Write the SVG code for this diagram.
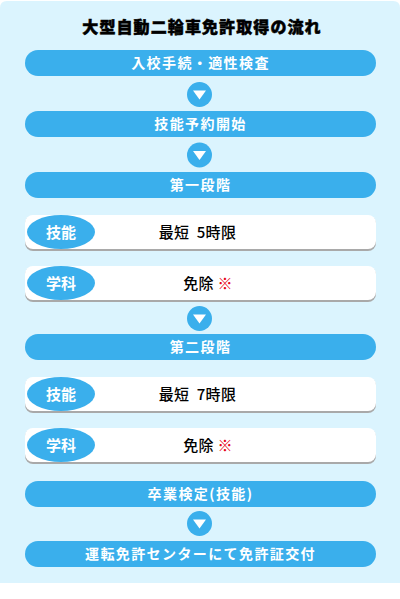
<svg xmlns="http://www.w3.org/2000/svg" width="400" height="599" viewBox="0 0 400 599">
<style>
.bar{fill:#3aafec}
.bt{fill:#fff;font-family:"Noto Sans CJK JP","Noto Sans",sans-serif;font-weight:bold;font-size:14px;letter-spacing:1.4px;text-anchor:middle}
.lt{fill:#fff;font-family:"Noto Sans CJK JP","Noto Sans",sans-serif;font-weight:bold;font-size:15px;text-anchor:middle}
.card{fill:#fff}
.sh{fill:#a9a9a9}
.tag{fill:#3aafec}
.ct{fill:#000;font-family:"Noto Sans CJK JP","Noto Sans",sans-serif;font-weight:500;font-size:15px;letter-spacing:0.3px;text-anchor:middle}
.red{fill:#e60012}
.arr{fill:#3aafec}
.tri{fill:#fff}
</style>
<path d="M0,8 Q0,1 7,1 L393,1 Q400,1 400,8 L400,583 L0,583 Z" fill="#dbf4fe"/>
<text x="202" y="33" font-family="'Noto Sans CJK JP',sans-serif" font-weight="900" font-size="16" letter-spacing="1.1" text-anchor="middle" fill="#000" stroke="#000" stroke-width="0.5">大型自動二輪車免許取得の流れ</text>
<g id="connectors">
<g><circle class="arr" cx="199.5" cy="94.5" r="12.5"/><path class="tri" d="M193,90.5 L206,90.5 L199.5,99.5 Z"/></g>
<g><circle class="arr" cx="199.5" cy="155" r="12.5"/><path class="tri" d="M193,151 L206,151 L199.5,160 Z"/></g>
<g><circle class="arr" cx="199.5" cy="318.5" r="12.5"/><path class="tri" d="M193,314.5 L206,314.5 L199.5,323.5 Z"/></g>
<g><circle class="arr" cx="199.5" cy="523.5" r="12.5"/><path class="tri" d="M193,519.5 L206,519.5 L199.5,528.5 Z"/></g>
</g>
<g id="n1"><rect class="bar" x="25" y="50" width="351" height="26" rx="13"/><text class="bt" x="200.5" y="68">入校手続・適性検査</text></g>
<g id="n2"><rect class="bar" x="25" y="111" width="351" height="26" rx="13"/><text class="bt" x="200.5" y="129">技能予約開始</text></g>
<g id="n3"><rect class="bar" x="25" y="172" width="351" height="26" rx="13"/><text class="bt" x="200.5" y="190">第一段階</text></g>
<g id="n4"><rect class="sh" x="25" y="216" width="351" height="35" rx="8"/><rect class="card" x="25" y="215" width="351" height="34" rx="8"/><ellipse class="tag" cx="61" cy="232" rx="34" ry="17"/><text class="lt" x="61" y="237.5">技能</text><text class="ct" x="197.5" y="238" xml:space="preserve">最短  5時限</text></g>
<g id="n5"><rect class="sh" x="25" y="267" width="351" height="35" rx="8"/><rect class="card" x="25" y="266" width="351" height="34" rx="8"/><ellipse class="tag" cx="61" cy="283" rx="34" ry="17"/><text class="lt" x="61" y="288.5">学科</text><text class="ct" x="208" y="289">免除 <tspan class="red">※</tspan></text></g>
<g id="n6"><rect class="bar" x="25" y="334" width="351" height="26" rx="13"/><text class="bt" x="200.5" y="352">第二段階</text></g>
<g id="n7"><rect class="sh" x="25" y="378" width="351" height="35" rx="8"/><rect class="card" x="25" y="377" width="351" height="34" rx="8"/><ellipse class="tag" cx="61" cy="394" rx="34" ry="17"/><text class="lt" x="61" y="399.5">技能</text><text class="ct" x="197.5" y="400" xml:space="preserve">最短  7時限</text></g>
<g id="n8"><rect class="sh" x="25" y="429" width="351" height="35" rx="8"/><rect class="card" x="25" y="428" width="351" height="34" rx="8"/><ellipse class="tag" cx="61" cy="445" rx="34" ry="17"/><text class="lt" x="61" y="450.5">学科</text><text class="ct" x="208" y="451">免除 <tspan class="red">※</tspan></text></g>
<g id="n9"><rect class="bar" x="25" y="481" width="351" height="26" rx="13"/><text class="bt" x="200.5" y="499">卒業検定(技能)</text></g>
<g id="n10"><rect class="bar" x="25" y="541" width="351" height="26" rx="13"/><text class="bt" x="200.5" y="559">運転免許センターにて免許証交付</text></g>
</svg>
